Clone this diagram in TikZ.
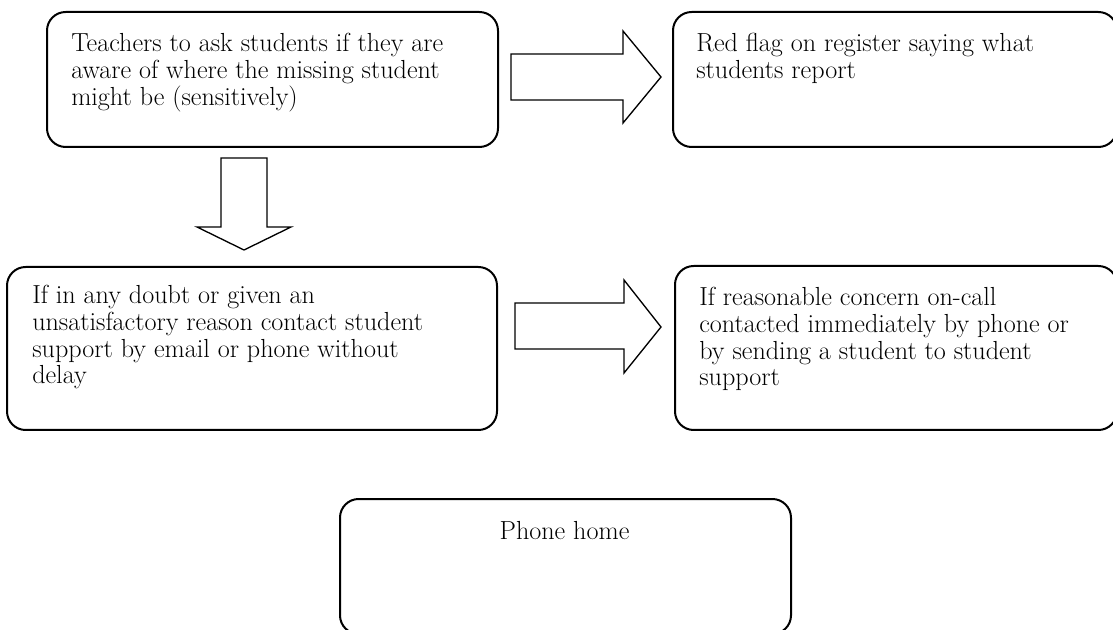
\documentclass[tikz,border=0pt]{standalone}
\usetikzlibrary{fit,calc}
\tikzset{
  box/.style={draw, line width=1.5pt, rounded corners=14pt, inner sep=0pt},
  txt/.style={inner sep=0pt, anchor=base west, font=\fontsize{19.6}{20}\selectfont},
  blockarrow/.style={draw, line width=1pt, fill=white, line join=miter},
}
\newcommand{\boxtext}[1]{\parbox[t]{420pt}{\raggedright #1}}
\begin{document}
\begin{tikzpicture}[x=0.75pt, y=-0.75pt]
\useasboundingbox (0,0) rectangle (1113,630);
\clip (0,0) rectangle (1113,630);
% boxes
\node[box, fit={(47,12) (498,147)}] (b1) {};
\node[box, fit={(673,12) (1117,147)}] (b2) {};
\node[box, fit={(7,267) (497,430)}] (b3) {};
\node[box, fit={(675,266) (1117,430)}] (b4) {};
\node[box, fit={(340,499) (791,634)}] (b5) {};
% texts
\node[txt] (t1) at ($(b1.north west)+(25,41)$) {\boxtext{Teachers to ask students if they are\\aware of where the missing student\\might be (sensitively)}};
\node[txt] (t2) at ($(b2.north west)+(24,41)$) {\boxtext{Red flag on register saying what\\students report}};
\node[txt] (t3) at ($(b3.north west)+(26,38)$) {\boxtext{If in any doubt or given an\\unsatisfactory reason contact student\\support by email or phone without\\delay}};
\node[txt] (t4) at ($(b4.north west)+(25,41)$) {\boxtext{If reasonable concern on-call\\contacted immediately by phone or\\by sending a student to student\\support}};
\node[txt, anchor=base] (t5) at ($(b5.north)+(-1,41)$) {Phone home};
% block arrows
\draw[blockarrow] (511,54) -- (623,54) -- (623,31) -- (661,77) -- (623,123) -- (623,100) -- (511,100) -- cycle;
\draw[blockarrow] (515,303) -- (624,303) -- (624,280) -- (661,327) -- (624,373) -- (624,349) -- (515,349) -- cycle;
\draw[blockarrow] (221,158) -- (267,158) -- (267,227) -- (291,227) -- (244,250) -- (197,227) -- (221,227) -- cycle;
\end{tikzpicture}
\end{document}
